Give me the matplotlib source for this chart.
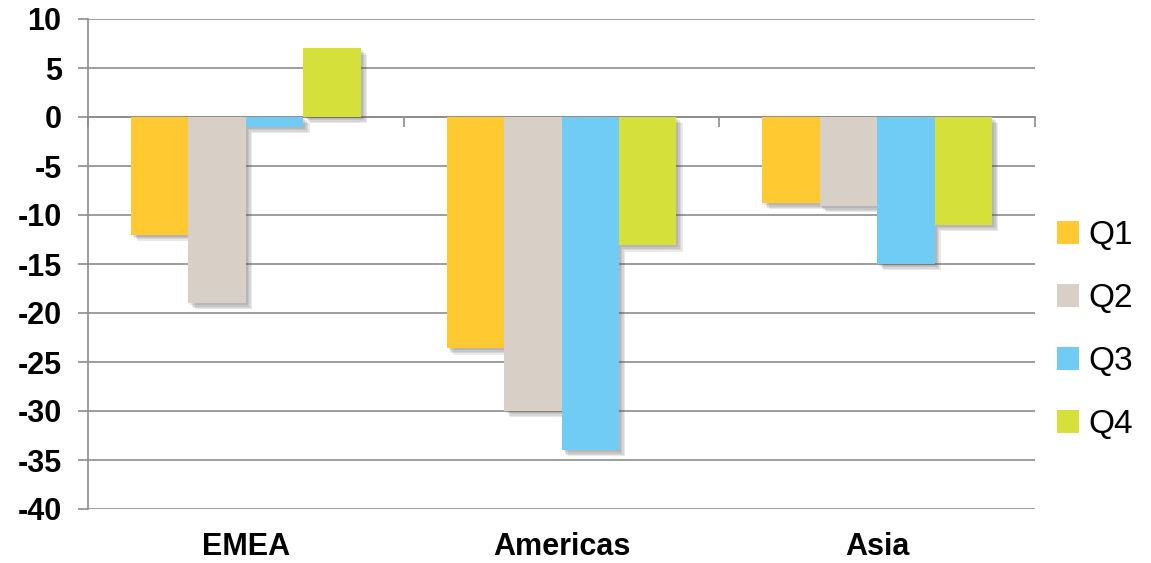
import numpy as np
import matplotlib.pyplot as plt
import matplotlib.patheffects as pe
from matplotlib.transforms import blended_transform_factory

plt.rcParams['font.family'] = ['Liberation Sans', 'DejaVu Sans']
plt.rcParams['axes.unicode_minus'] = False

regions = ["EMEA", "Americas", "Asia"]
quarters = ["Q1", "Q2", "Q3", "Q4"]
q1 = [-12, -23.6, -8.8]
q2 = [-19, -30, -9.1]
q3 = [-1, -34, -15]
q4 = [7, -13.1, -11]
colors = ["#FFCA31", "#D8D0C7", "#70CCF4", "#D5E03B"]

fig = plt.figure(figsize=(11.51, 5.63), dpi=100)
ax = fig.add_axes([88/1151, 1-509/563, (1035-88)/1151, (509-19)/563])

x = np.arange(len(regions))
w = 0.182
# soft drop shadow: a few offset layers stacked
shadow = [pe.SimplePatchShadow(offset=(k, -k), shadow_rgbFace="#505050", alpha=0.12)
          for k in (1.5, 2.5, 3.5, 4.5)] + [pe.Normal()]
for i, (vals, c, lab) in enumerate(zip([q1, q2, q3, q4], colors, quarters)):
    bars = ax.bar(x + (i - 1.5)*w, vals, w, color=c, label=lab, zorder=3)
    for b in bars:
        b.set_path_effects(shadow)

ax.set_xlim(-0.5, 2.5)
ax.set_ylim(-40, 10)
ax.set_yticks(np.arange(-40, 11, 5))
ax.yaxis.grid(True, color="#8c8c8c", linewidth=1.2, zorder=0)
ax.set_axisbelow(True)

for s in ["top", "right"]:
    ax.spines[s].set_visible(False)
ax.spines["left"].set_color("#8c8c8c")
ax.spines["left"].set_linewidth(1.2)
ax.spines["bottom"].set_position(("data", 0))
ax.spines["bottom"].set_color("#8c8c8c")
ax.spines["bottom"].set_linewidth(1.2)

ax.set_xticks([-0.5, 0.5, 1.5, 2.5])
ax.set_xticklabels([])
ax.tick_params(axis="x", direction="out", length=7, width=1.2, color="#8c8c8c")
ax.tick_params(axis="y", direction="out", length=7, width=1.2, color="#8c8c8c", pad=12)
for t in ax.get_yticklabels():
    t.set_fontsize(22)
    t.set_fontweight("bold")

tr = blended_transform_factory(ax.transData, ax.transAxes)
for xi, r in zip(x, regions):
    ax.text(xi, -0.078, r, transform=tr, ha="center", va="center",
            fontsize=22, fontweight="bold")

leg = fig.legend(loc="center left", bbox_to_anchor=(1057/1151, 1-330/563),
                 frameon=False, fontsize=24, handlelength=0.66, handleheight=0.66,
                 handletextpad=0.28, labelspacing=0.96, borderpad=0, borderaxespad=0)
for h in leg.legend_handles:
    h.set_path_effects([])

fig.savefig("out.png", dpi=100)
